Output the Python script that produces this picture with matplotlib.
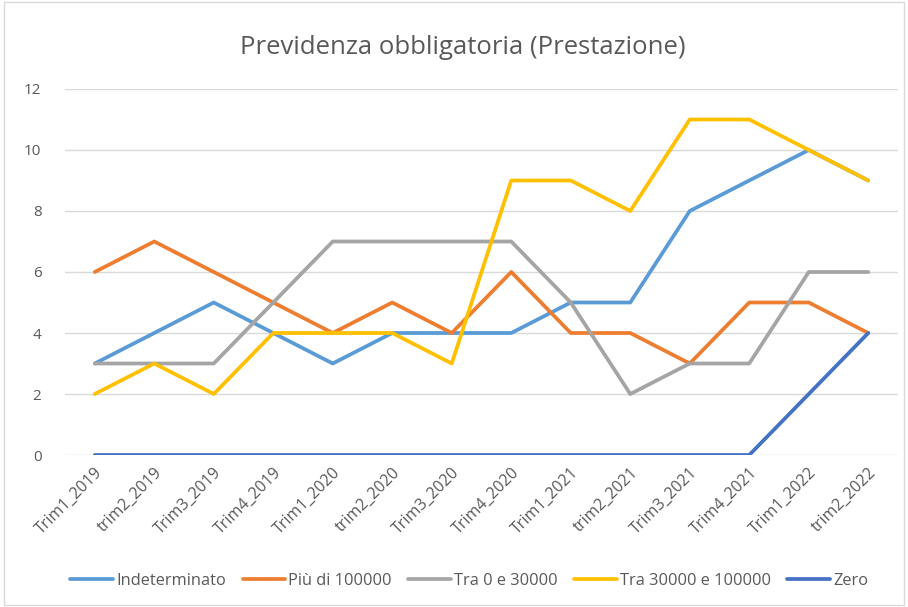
import matplotlib.pyplot as plt
from matplotlib.patches import Rectangle

plt.rcParams['font.family'] = ['Open Sans', 'DejaVu Sans']

quarters = ['Trim1_2019', 'trim2_2019', 'Trim3_2019', 'Trim4_2019',
            'Trim1_2020', 'trim2_2020', 'Trim3_2020', 'Trim4_2020',
            'Trim1_2021', 'trim2_2021', 'Trim3_2021', 'Trim4_2021',
            'Trim1_2022', 'trim2_2022']

indeterminato = [3, 4, 5, 4, 3, 4, 4, 4, 5, 5, 8, 9, 10, 9]
piu_100000 = [6, 7, 6, 5, 4, 5, 4, 6, 4, 4, 3, 5, 5, 4]
tra_0_30000 = [3, 3, 3, 5, 7, 7, 7, 7, 5, 2, 3, 3, 6, 6]
tra_30000_100000 = [2, 3, 2, 4, 4, 4, 3, 9, 9, 8, 11, 11, 10, 9]
zero = [0, 0, 0, 0, 0, 0, 0, 0, 0, 0, 0, 0, 2, 4]

series = [
    ('Indeterminato', indeterminato, '#5B9BD5'),
    ('Più di 100000', piu_100000, '#ED7D31'),
    ('Tra 0 e 30000', tra_0_30000, '#A5A5A5'),
    ('Tra 30000 e 100000', tra_30000_100000, '#FFC000'),
    ('Zero', zero, '#4472C4'),
]

fig = plt.figure(figsize=(9.08, 6.07), dpi=100)
ax = fig.add_axes([0.0716, 0.2504, 0.9174, 0.603])

x = list(range(len(quarters)))
for name, vals, col in series:
    ax.plot(x, vals, color=col, linewidth=2.7, label=name, solid_capstyle='round')

ax.set_xlim(-0.5, len(quarters) - 0.5)
ax.set_ylim(0, 12)
ax.set_yticks(range(0, 13, 2))
ax.grid(axis='y', color='#D9D9D9', linewidth=1)
ax.set_axisbelow(True)
for s in ax.spines.values():
    s.set_visible(False)
ax.tick_params(length=0, colors='#595959', labelsize=11)
ax.tick_params(axis='y', pad=17)
ax.set_xticks(x)
ax.set_xticklabels(quarters, rotation=45, ha='right', rotation_mode='anchor')
ax.tick_params(axis='x', pad=7, labelsize=11.5)

fig.suptitle('Previdenza obbligatoria (Prestazione)', x=0.51, y=0.943, fontsize=18.5,
             color='#595959')

fig.legend(loc='center', bbox_to_anchor=(0.517, 0.043), ncol=5, frameon=False,
           fontsize=11.8, handlelength=2.6, handletextpad=0.2, columnspacing=1.0,
           labelcolor='#595959')

fig.patches.append(Rectangle((0.004, 0.003), 0.992, 0.994, transform=fig.transFigure,
                             fill=False, edgecolor='#D9D9D9', linewidth=1))

fig.savefig('out.png', dpi=100)
